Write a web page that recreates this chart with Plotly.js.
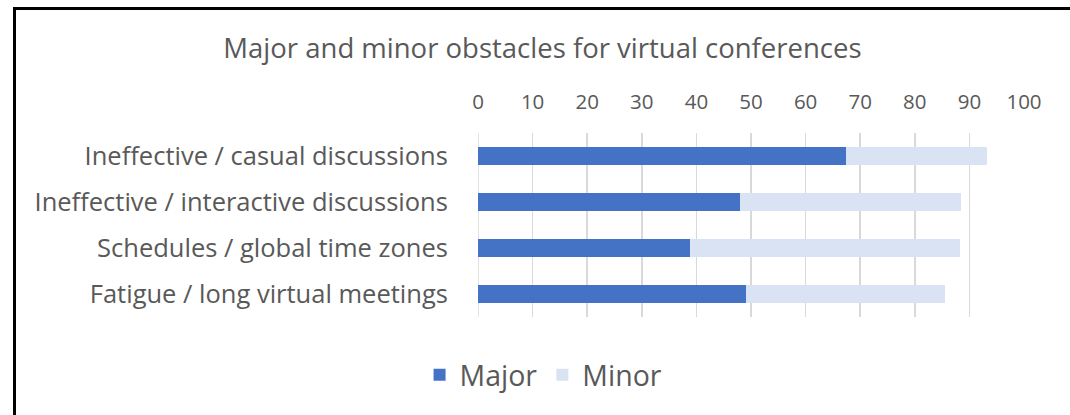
<!DOCTYPE html>
<html><head><meta charset="utf-8">
<script src="https://cdn.plot.ly/plotly-3.0.1.min.js"></script>
<style>
html,body{margin:0;padding:0;background:#fff;overflow:hidden;}
#wrap{position:relative;width:1070px;height:415px;overflow:hidden;background:#fff;}
#chart{position:absolute;left:0;top:0;width:1070px;height:415px;}
#hline{position:absolute;left:13px;top:7px;width:1100px;height:2.5px;background:#000;pointer-events:none;}
#vline{position:absolute;left:13px;top:7px;width:2.5px;height:420px;background:#000;pointer-events:none;}
</style></head>
<body><div id="wrap"><div id="chart"></div><div id="hline"></div><div id="vline"></div></div>
<script>
const categories = ["Ineffective / casual discussions","Ineffective / interactive discussions","Schedules / global time zones","Fatigue / long virtual meetings"];
const majorValues = [67.4, 47.9, 38.9, 49.0];
const minorValues = [25.8, 40.6, 49.4, 36.5];
const tickValues = [0,10,20,30,40,50,60,70,80,90,100];

const FONT = "Open Sans, Noto Sans, sans-serif";
const GREY = "#595959";
const data = [
  {type:"bar", orientation:"h", name:"Major", y:categories, x:majorValues, marker:{color:"#4472C4"}, hoverinfo:"x"},
  {type:"bar", orientation:"h", name:"Minor", y:categories, x:minorValues, marker:{color:"#DAE3F3"}, hoverinfo:"x"}
];
const layout = {
  width:1070, height:415,
  margin:{l:478, r:46, t:133, b:98},
  paper_bgcolor:"#fff", plot_bgcolor:"#fff",
  barmode:"stack", bargap:0.6,
  font:{family:FONT, color:GREY},
  title:{text:"Major and minor obstacles for virtual conferences", font:{family:FONT, size:27.5, color:GREY}, xref:"container", yref:"container", x:0.507, xanchor:"center", y:0.884, yanchor:"middle"},
  xaxis:{side:"top", range:[0,100], tickvals:tickValues, ticktext:tickValues.map(String), showgrid:true, gridcolor:"#d9d9d9", gridwidth:1.5, zeroline:false, showline:false, ticks:"outside", ticklen:15, tickcolor:"rgba(0,0,0,0)", tickfont:{family:FONT, size:20.5, color:GREY}, fixedrange:true},
  yaxis:{autorange:"reversed", showgrid:false, zeroline:false, showline:false, ticks:"outside", ticklen:24, tickcolor:"rgba(0,0,0,0)", tickfont:{family:FONT, size:25.5, color:GREY}, fixedrange:true},
  showlegend:true,
  legend:{orientation:"h", xref:"container", yref:"container", x:0.508, xanchor:"center", y:0.096, yanchor:"middle", font:{family:FONT, size:28.5, color:GREY}, itemwidth:30, traceorder:"normal"},
  shapes:[{type:"line", xref:"x", yref:"paper", x0:0, x1:0, y0:0, y1:1, line:{color:"#d9d9d9", width:1.5}, layer:"below"}]
};
Plotly.newPlot("chart", data, layout, {staticPlot:true, displayModeBar:false});
</script></body></html>
